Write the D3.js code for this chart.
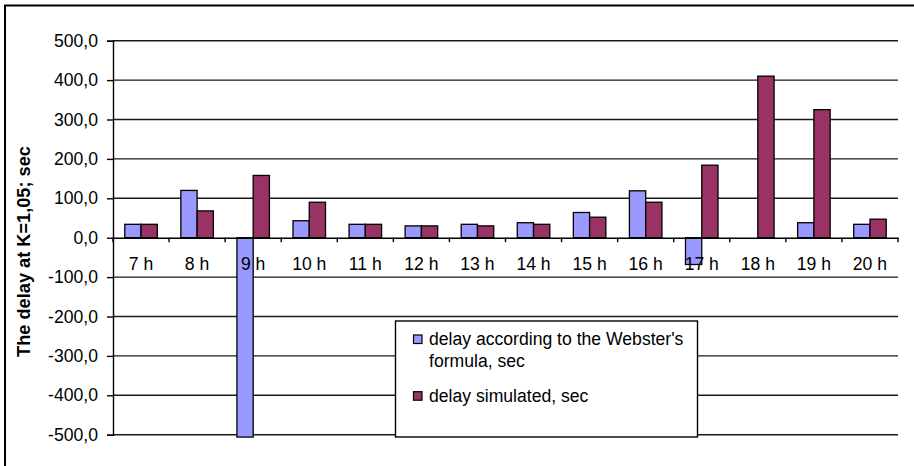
<!DOCTYPE html>
<html>
<head>
<meta charset="utf-8">
<script src="https://cdn.jsdelivr.net/npm/d3@7/dist/d3.min.js"></script>
<style>
  html, body { margin: 0; padding: 0; background: #fff; }
  svg { display: block; font-family: "Liberation Sans", Arial, sans-serif; }
</style>
</head>
<body>
<svg id="chart" width="914" height="466"></svg>
<script>
const categories = ["7 h","8 h","9 h","10 h","11 h","12 h","13 h","14 h","15 h","16 h","17 h","18 h","19 h","20 h"];
const websterDelay = [34, 120, -506, 43, 34, 30, 34, 38, 64, 119, -68, 0, 38, 34];
const simulatedDelay = [34, 68, 158, 90, 34, 30, 30, 34, 52, 90, 184, 410, 325, 47];
const seriesNames = ["delay according to the Webster's formula, sec", "delay simulated, sec"];
const seriesColors = ["#9999FF", "#993366"];
const yTicks = [500, 400, 300, 200, 100, 0, -100, -200, -300, -400, -500];
const yTitle = "The delay at K=1,05; sec";

const svg = d3.select("#chart");
const plotLeft = 113, plotRight = 898, plotTop = 40.7, plotBottom = 434.7;
const fs = "17.6px";

// outer frame (only top and left visible)
svg.append("path").attr("d", "M5,466V5.5H914").attr("fill", "none").attr("stroke", "#000").attr("stroke-width", 2);

const x = d3.scaleBand().domain(categories).range([plotLeft, plotRight]).padding(0);
const y = d3.scaleLinear().domain([-500, 500]).range([plotBottom, plotTop]);
const fmt = v => d3.format(".1f")(v).replace(".", ",").replace("−", "-");

// gridlines
svg.append("g").selectAll("line").data(yTicks.filter(d => d !== 0)).join("line")
  .attr("x1", plotLeft).attr("x2", plotRight)
  .attr("y1", d => y(d)).attr("y2", d => y(d))
  .attr("stroke", "#1a1a1a").attr("stroke-width", 1.4);

// bars
const bw = x.bandwidth() * 0.29;
const series = [websterDelay, simulatedDelay];
series.forEach((vals, si) => {
  svg.append("g").selectAll("rect").data(categories.map((c, i) => ({c, v: vals[i]})).filter(d => d.v !== 0)).join("rect")
    .attr("x", d => x(d.c) + x.bandwidth() / 2 - bw + si * bw)
    .attr("width", bw)
    .attr("y", d => y(Math.max(0, d.v)))
    .attr("height", d => Math.abs(y(d.v) - y(0)))
    .attr("fill", seriesColors[si])
    .attr("stroke", "#000").attr("stroke-width", 1.3);
});

// y axis
const yAxis = svg.append("g").attr("transform", `translate(${plotLeft},0)`)
  .call(d3.axisLeft(y).tickValues(yTicks).tickSize(6).tickPadding(9).tickFormat(fmt));
yAxis.select(".domain").attr("stroke", "#000").attr("stroke-width", 1.4);
yAxis.selectAll(".tick line").attr("stroke", "#000").attr("stroke-width", 1.4);
yAxis.selectAll("text").attr("font-size", fs).attr("fill", "#000")
  .attr("font-family", "'Liberation Sans', Arial, sans-serif");

// x axis at zero
const xAxis = svg.append("g").attr("transform", `translate(0,${y(0)})`)
  .call(d3.axisBottom(x).tickSize(0).tickPadding(0));
xAxis.select(".domain").attr("stroke", "#000").attr("stroke-width", 1.4);
xAxis.selectAll(".tick text").attr("font-size", fs).attr("fill", "#000")
  .attr("font-family", "'Liberation Sans', Arial, sans-serif")
  .attr("dy", null).attr("y", 270.5 - y(0));
// boundary ticks
const bounds = categories.map(c => x(c)).concat([plotRight]);
xAxis.append("g").selectAll("line").data(bounds).join("line")
  .attr("x1", d => d).attr("x2", d => d).attr("y1", 0).attr("y2", 4.5)
  .attr("stroke", "#000").attr("stroke-width", 1.4);

// y title
svg.append("text")
  .attr("transform", "translate(30,251.5) rotate(-90)")
  .attr("text-anchor", "middle")
  .attr("font-size", "18.2px").attr("font-weight", "bold").attr("fill", "#000")
  .text(yTitle);

// legend
const lg = svg.append("g");
lg.append("rect").attr("x", 395.5).attr("y", 321).attr("width", 302).attr("height", 116)
  .attr("fill", "#fff").attr("stroke", "#000").attr("stroke-width", 1.4);
const legendLines = [["delay according to the Webster's", "formula, sec"], [seriesNames[1]]];
const firstBaselines = [345, 401.7];
legendLines.forEach((lines, i) => {
  lg.append("rect").attr("x", 413.5).attr("y", firstBaselines[i] - 10).attr("width", 8.5).attr("height", 8.5)
    .attr("fill", seriesColors[i]).attr("stroke", "#000").attr("stroke-width", 1.2);
  lines.forEach((t, j) => {
    lg.append("text").attr("x", 429).attr("y", firstBaselines[i] + j * 21.7)
      .attr("font-size", fs).attr("fill", "#000").text(t);
  });
});
</script>
</body>
</html>
